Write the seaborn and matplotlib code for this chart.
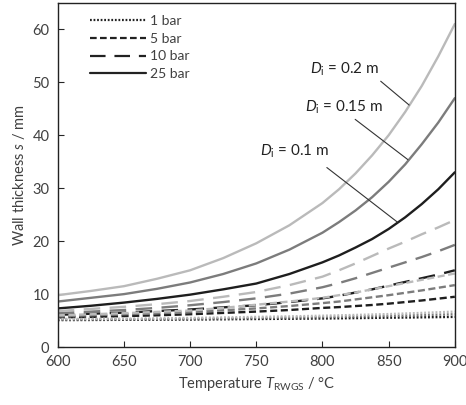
import matplotlib
matplotlib.use("Agg")
from matplotlib import pyplot as plt
from matplotlib.lines import Line2D
import seaborn as sns
import pandas as pd

# temperature grid (°C), finer where the curves bend most
temps = [600, 625, 650, 675, 700, 725, 750, 775, 800, 812.5, 825, 837.5, 850, 862.5, 875, 887.5, 900]

# wall thickness (mm), per pressure and inner diameter
s_1bar_d010 = [5.1, 5.12, 5.15, 5.18, 5.2, 5.25, 5.3, 5.35, 5.4, 5.43, 5.47, 5.51, 5.55, 5.58, 5.62, 5.66, 5.7]
s_1bar_d015 = [5.2, 5.22, 5.25, 5.3, 5.35, 5.42, 5.5, 5.58, 5.67, 5.72, 5.78, 5.84, 5.9, 5.97, 6.05, 6.12, 6.2]
s_1bar_d020 = [5.3, 5.33, 5.37, 5.42, 5.5, 5.6, 5.7, 5.8, 5.92, 5.99, 6.07, 6.15, 6.23, 6.34, 6.45, 6.57, 6.7]

s_5bar_d010 = [5.6, 5.7, 5.85, 6.0, 6.2, 6.45, 6.7, 7.0, 7.4, 7.55, 7.75, 7.95, 8.2, 8.5, 8.8, 9.15, 9.5]
s_5bar_d015 = [5.8, 6.0, 6.2, 6.4, 6.6, 6.95, 7.3, 7.75, 8.3, 8.6, 9.0, 9.4, 9.8, 10.25, 10.7, 11.2, 11.7]
s_5bar_d020 = [6.0, 6.2, 6.4, 6.65, 6.9, 7.4, 8.0, 8.6, 9.3, 9.8, 10.3, 10.9, 11.5, 12.1, 12.7, 13.3, 13.9]

s_10bar_d010 = [6.1, 6.3, 6.5, 6.8, 7.1, 7.5, 7.9, 8.5, 9.2, 9.7, 10.3, 10.9, 11.6, 12.3, 13.0, 13.7, 14.5]
s_10bar_d015 = [6.4, 6.7, 7.0, 7.4, 7.9, 8.5, 9.2, 10.1, 11.3, 12.1, 13.0, 14.0, 15.0, 16.0, 17.0, 18.1, 19.3]
s_10bar_d020 = [6.8, 7.2, 7.6, 8.1, 8.7, 9.5, 10.4, 11.7, 13.3, 14.5, 15.8, 17.2, 18.6, 19.9, 21.3, 22.6, 24.0]

s_25bar_d010 = [7.3, 7.8, 8.4, 9.1, 9.9, 10.9, 12.0, 13.8, 16.0, 17.3, 18.8, 20.4, 22.3, 24.5, 27.0, 29.8, 33.0]
s_25bar_d015 = [8.6, 9.3, 10.0, 11.0, 12.2, 13.8, 15.8, 18.4, 21.6, 23.6, 25.8, 28.3, 31.2, 34.5, 38.3, 42.4, 47.0]
s_25bar_d020 = [9.8, 10.6, 11.5, 12.9, 14.5, 16.8, 19.6, 23.0, 27.2, 29.8, 32.8, 36.2, 40.0, 44.4, 49.3, 54.9, 61.0]

pressures = ["1 bar", "5 bar", "10 bar", "25 bar"]
diameters = ["0.1", "0.15", "0.2"]

series = {
    ("1 bar", "0.1"): s_1bar_d010, ("1 bar", "0.15"): s_1bar_d015, ("1 bar", "0.2"): s_1bar_d020,
    ("5 bar", "0.1"): s_5bar_d010, ("5 bar", "0.15"): s_5bar_d015, ("5 bar", "0.2"): s_5bar_d020,
    ("10 bar", "0.1"): s_10bar_d010, ("10 bar", "0.15"): s_10bar_d015, ("10 bar", "0.2"): s_10bar_d020,
    ("25 bar", "0.1"): s_25bar_d010, ("25 bar", "0.15"): s_25bar_d015, ("25 bar", "0.2"): s_25bar_d020,
}

rows = []
for (p, d), vals in series.items():
    for t, s in zip(temps, vals):
        rows.append({"T": t, "s": s, "p": p, "D": d})
df = pd.DataFrame(rows)

sns.set_style("ticks")
plt.rcParams["font.family"] = ["Lato", "DejaVu Sans"]
plt.rcParams["mathtext.fontset"] = "custom"
plt.rcParams["mathtext.rm"] = "Lato"
plt.rcParams["mathtext.it"] = "Lato:italic"

palette = {"0.1": "#1e1e1e", "0.15": "#7c7c7c", "0.2": "#bababa"}
dashes = {"1 bar": (0.8, 0.8), "5 bar": (3, 1.5), "10 bar": (7, 4), "25 bar": ""}

fig = plt.figure(figsize=(4.66, 4.05), dpi=100)
ax = fig.add_axes([0.124, 0.143, 0.852, 0.85])

sns.lineplot(data=df, x="T", y="s", hue="D", style="p", palette=palette,
             dashes=dashes, linewidth=1.7, legend=False, ax=ax, sort=True)

ax.set_xlim(600, 900)
ax.set_ylim(0, 65)
ax.set_xticks(range(600, 901, 50))
ax.set_yticks(range(0, 61, 10))
ax.tick_params(direction="in", length=4, width=0.8, labelsize=10.5, labelcolor="#404040",
               pad=6)
for sp in ax.spines.values():
    sp.set_linewidth(1.0)
    sp.set_color("#222222")

ax.set_xlabel("Temperature $T_\\mathrm{RWGS}$ / °C", fontsize=10.5, color="#404040")
ax.set_ylabel("Wall thickness $s$ / mm", fontsize=10.5, color="#404040")

# annotations
ann = [("$D_\\mathrm{i}$ = 0.2 m", (817, 52.5), (844, 50.2), (865.5, 45.7)),
       ("$D_\\mathrm{i}$ = 0.15 m", (816, 45.3), (824.7, 43.0), (864.5, 35.4)),
       ("$D_\\mathrm{i}$ = 0.1 m", (779, 37.0), (803.3, 33.9), (856.6, 23.6))]
for txt, tpos, p0, p1 in ann:
    ax.text(tpos[0], tpos[1], txt, ha="center", va="center", fontsize=11, color="#222222")
    ax.plot([p0[0], p1[0]], [p0[1], p1[1]], color="#333333", lw=0.8)

handles = [Line2D([], [], color="#222222", lw=1.6, dashes=dashes[p])
           for p in pressures[:3]]
handles.append(Line2D([], [], color="#222222", lw=1.6))
ax.legend(handles, pressures, loc="upper left", bbox_to_anchor=(0.05, 1.0), frameon=False,
          fontsize=10, handlelength=4.0, handletextpad=0.3, labelspacing=0.4,
          labelcolor="#404040")

fig.savefig("out.png", dpi=100)
